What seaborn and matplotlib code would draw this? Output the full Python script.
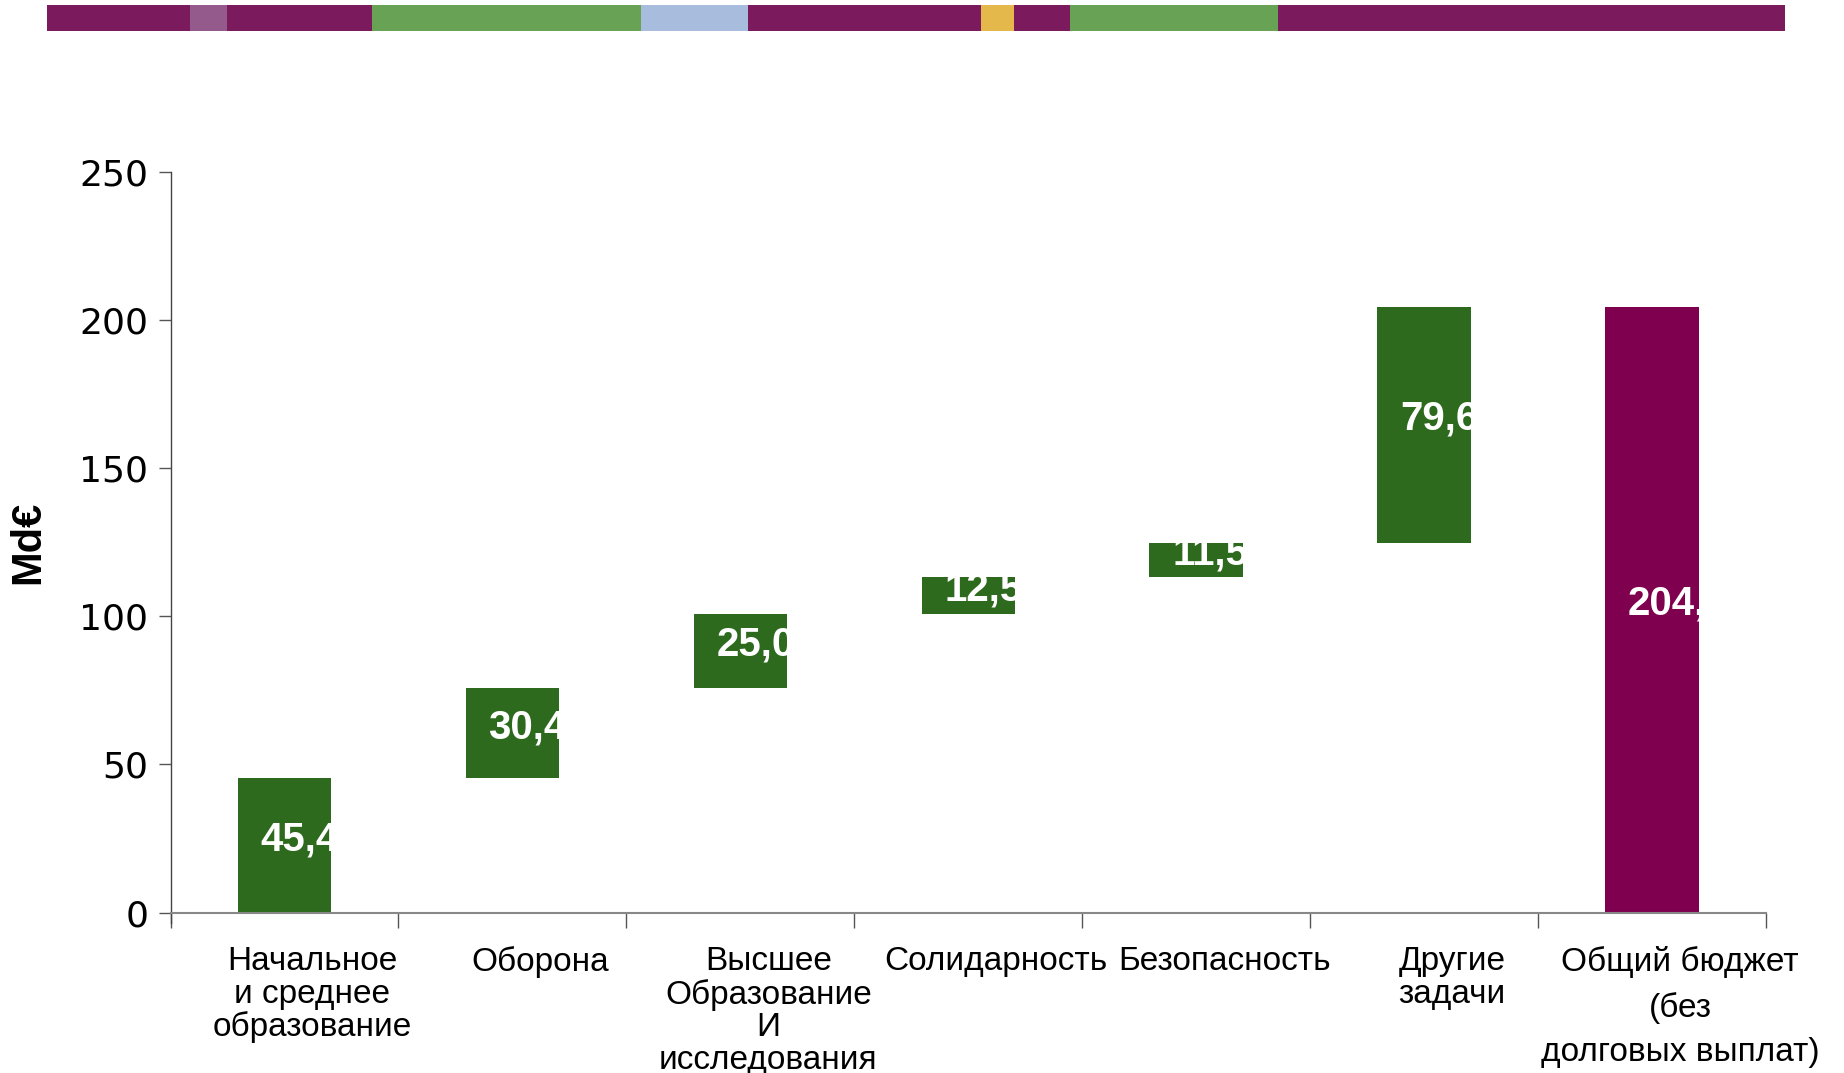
import numpy as np
import matplotlib
matplotlib.use("Agg")
import matplotlib.pyplot as plt
import matplotlib.transforms as mtransforms
import seaborn as sns

# waterfall data (Md€)
categories = ["Начальное\nи среднее\nобразование", "Оборона",
              "Высшее\nОбразование\nИ\nисследования", "Солидарность",
              "Безопасность", "Другие\nзадачи",
              "Общий бюджет\n(без\nдолговых выплат)"]
steps = [45.4, 30.4, 25.0, 12.5, 11.5, 79.6]
total = 204.4
value_labels = ["45,4", "30,4", "25,0", "12,5", "11,5", "79,6", "204,4"]

# decorative strip at the top
strip_widths = [122, 31, 123, 229, 91, 198, 28, 48, 177, 431]
strip_colors = ["#7b1a5c", "#955a8c", "#7b1a5c", "#68a255", "#a8bcdd",
                "#7b1a5c", "#e5b84c", "#7b1a5c", "#68a255", "#7b1a5c"]

GREEN = "#2d6a1e"
PURPLE = "#800050"

sns.set_theme(style="white")
plt.rcParams["font.family"] = ["Liberation Sans", "DejaVu Sans"]

fig = plt.figure(figsize=(18.44, 10.73), dpi=100)

# top strip
sax = fig.add_axes([47 / 1844, 1 - 31 / 1073, 1738 / 1844, 26 / 1073])
lefts = np.concatenate([[0], np.cumsum(strip_widths)[:-1]])
sax.barh([0] * len(strip_widths), strip_widths, left=lefts, height=1.0,
         color=strip_colors, linewidth=0)
sax.set_xlim(0, sum(strip_widths))
sax.set_ylim(-0.5, 0.5)
sax.axis("off")

ax = fig.add_axes([170.5 / 1844, 1 - 912.6 / 1073, (1766 - 170.5) / 1844,
                   (912.6 - 171.7) / 1073])

heights = steps + [total]
bottoms = list(np.concatenate([[0], np.cumsum(steps)[:-1]])) + [0]
colors = [GREEN] * len(steps) + [PURPLE]
x = np.arange(len(categories))
bars = ax.bar(x, heights, bottom=bottoms, width=0.41, color=colors, linewidth=0)

# value labels, clipped to their bar like in the original slide
for i, (b, h, lab) in enumerate(zip(bottoms, heights, value_labels)):
    t = ax.text(x[i] - 0.105, b + h / 2 + 2, lab, ha="left", va="center",
                color="white", fontsize=29, fontweight="bold")
    t.set_clip_path(bars[i])

ax.set_xlim(-0.5, len(categories) - 0.5)
ax.set_ylim(0, 250)
ax.set_yticks([0, 50, 100, 150, 200, 250])
ax.tick_params(axis="y", labelsize=26, length=9, width=1, color="#555555",
               pad=7, left=True, labelcolor="black")
for lab in ax.get_yticklabels():
    lab.set_family(["DejaVu Sans"])

# category boundaries as ticks, names as minor labels
ax.set_xticks(np.arange(len(categories) + 1) - 0.5)
ax.set_xticklabels([])
ax.tick_params(axis="x", which="major", length=11, width=1, color="#555555",
               direction="out", bottom=True)
ax.set_xticks(x, minor=True)
ax.set_xticklabels(categories, minor=True, fontsize=24, linespacing=1.07,
                   color="black")
ax.tick_params(axis="x", which="minor", length=0, pad=24)
shift = mtransforms.ScaledTranslation(0.28, 0, fig.dpi_scale_trans)
xlabs = ax.get_xticklabels(minor=True)
for lab in xlabs:
    lab.set_transform(lab.get_transform() + shift)
    lab.set_verticalalignment("top")
xlabs[5].set_multialignment("left")
xlabs[6].set_linespacing(1.55)

ax.set_ylabel("Md€", fontsize=30, fontweight="bold", labelpad=22, color="black")

for side in ["top", "right"]:
    ax.spines[side].set_visible(False)
ax.spines["left"].set_color("#444444")
ax.spines["left"].set_bounds(-3.6, 250)
ax.spines["bottom"].set_color("#888888")
ax.spines["left"].set_linewidth(1)
ax.spines["bottom"].set_linewidth(1.5)

fig.savefig("out.png", dpi=100)
